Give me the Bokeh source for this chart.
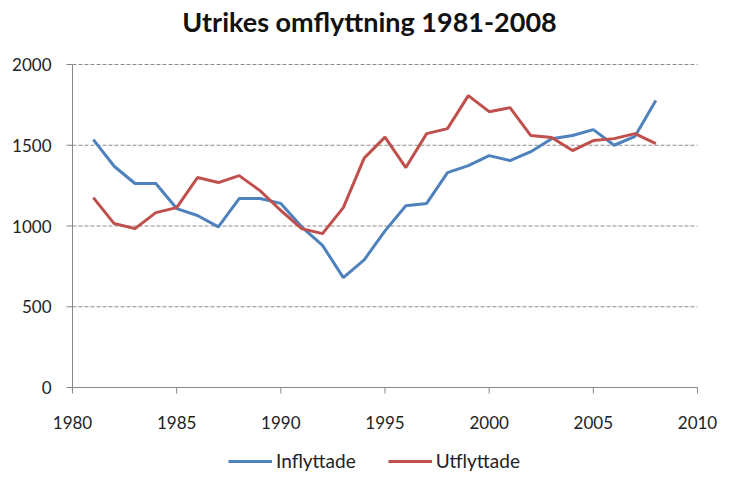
import math
from bokeh.plotting import figure
from bokeh.models import Range1d, Legend, LegendItem, Label
from bokeh.core.properties import value
from bokeh.embed import file_html
from bokeh.resources import INLINE

years = list(range(1981, 2009))
inflyttade = [1535, 1370, 1263, 1263, 1108, 1065, 995, 1170, 1170, 1140,
              995, 880, 680, 790, 970, 1125, 1140, 1330, 1374, 1436,
              1405, 1460, 1540, 1560, 1597, 1500, 1555, 1777]
utflyttade = [1176, 1015, 984, 1083, 1114, 1300, 1269, 1312, 1219, 1096,
              984, 953, 1114, 1420, 1550, 1362, 1572, 1603, 1807, 1708,
              1733, 1560, 1548, 1467, 1529, 1541, 1572, 1510]
x_ticks = [1980, 1985, 1990, 1995, 2000, 2005, 2010]
x_tick_labels = [str(t) for t in x_ticks]
y_ticks = [0, 500, 1000, 1500, 2000]
y_tick_labels = [str(t) for t in y_ticks]
title_text = "Utrikes omflyttning 1981-2008"
series_names = ["Inflyttade", "Utflyttade"]

FONT = "Lato"
AXIS_COLOR = "#868686"
TEXT_COLOR = "#222222"
W, H = 718, 473
PLOT_LEFT, PLOT_RIGHT = 72, 697      # pixel columns of the year-axis extent
PLOT_TOP, PLOT_BOTTOM = 64, 387      # pixel rows of the value-axis extent

px_per_year = (PLOT_RIGHT - PLOT_LEFT) / (x_ticks[-1] - x_ticks[0])
px_per_unit = (PLOT_BOTTOM - PLOT_TOP) / (y_ticks[-1] - y_ticks[0])
x_start = x_ticks[0] - PLOT_LEFT / px_per_year
x_end = x_ticks[-1] + (W - PLOT_RIGHT) / px_per_year
y_start = y_ticks[0] - (H - PLOT_BOTTOM) / px_per_unit
y_end = y_ticks[-1] + PLOT_TOP / px_per_unit

p = figure(width=W, height=H, output_backend="svg", toolbar_location=None,
           x_range=Range1d(x_start, x_end), y_range=Range1d(y_start, y_end),
           min_border=0, outline_line_color=None,
           x_axis_location=None, y_axis_location=None, title_location=None)
p.xgrid.visible = False
p.ygrid.visible = False

nx, ny = len(x_ticks), len(y_ticks)
x0, y0 = x_ticks[0], y_ticks[0]

# horizontal dashed gridlines
p.segment(x0=[x_ticks[0]] * (ny - 1), y0=y_ticks[1:], x1=[x_ticks[-1]] * (ny - 1),
          y1=y_ticks[1:], line_color="#8c8c8c", line_width=1, line_dash="4 2")

# value axis
p.segment(x0=[x0], y0=[y_ticks[0]], x1=[x0], y1=[y_ticks[-1]],
          line_color=AXIS_COLOR, line_width=1)
p.ray(x=[x0] * ny, y=y_ticks, length=6, length_units="screen", angle=math.pi,
      line_color=AXIS_COLOR, line_width=1)
p.text(x=[x0] * ny, y=y_ticks, text=y_tick_labels, text_align="right",
       text_baseline="middle", x_offset=-21, text_font=value(FONT),
       text_font_size="17px", text_color=TEXT_COLOR)

# year axis
p.segment(x0=[x_ticks[0]], y0=[y0], x1=[x_ticks[-1]], y1=[y0],
          line_color=AXIS_COLOR, line_width=1)
p.ray(x=x_ticks, y=[y0] * nx, length=6, length_units="screen",
      angle=-math.pi / 2, line_color=AXIS_COLOR, line_width=1)
p.text(x=x_ticks, y=[y0] * nx, text=x_tick_labels, text_align="center",
       text_baseline="middle", y_offset=35, text_font=value(FONT),
       text_font_size="17px", text_color=TEXT_COLOR)

r1 = p.line(years, inflyttade, line_color="#4F81BD", line_width=3)
r2 = p.line(years, utflyttade, line_color="#C0504D", line_width=3)

title = Label(x=369, y=H - 21, x_units="screen", y_units="screen", text=title_text,
              text_align="center", text_baseline="middle", text_font=FONT,
              text_font_size="27px", text_font_style="bold", text_color="#111111")
p.add_layout(title)

legend = Legend(items=[LegendItem(label=series_names[0], renderers=[r1]),
                       LegendItem(label=series_names[1], renderers=[r2])],
                orientation="horizontal", location=(228, 1),
                label_text_font=FONT, label_text_font_size="19px",
                label_text_color=TEXT_COLOR, glyph_width=44, glyph_height=16,
                label_standoff=4, spacing=32, padding=0, margin=0,
                border_line_color=None, background_fill_alpha=0)
p.add_layout(legend, "center")

open("out.html", "w").write(file_html(p, INLINE))
